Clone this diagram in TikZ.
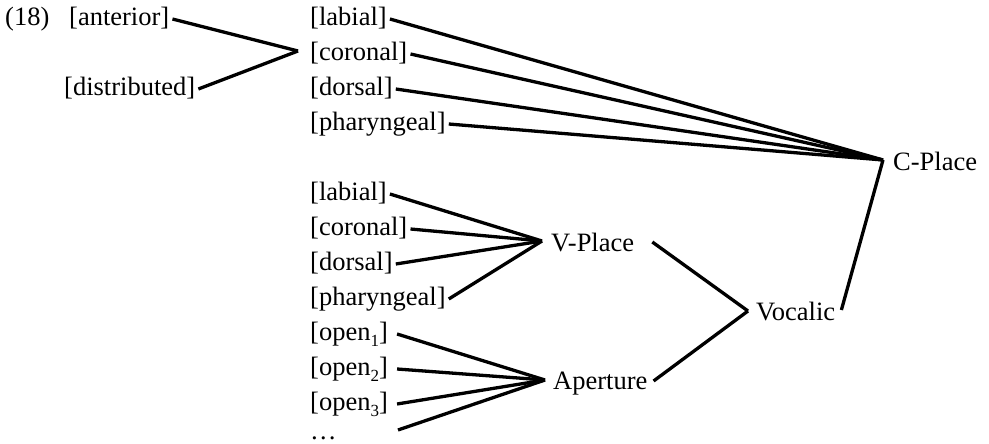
\documentclass[tikz,border=0pt]{standalone}
\usepackage{fontspec}
\setmainfont{Liberation Serif}
\newcommand\fsz{\fontsize{26.5}{30}\selectfont}
\newcommand\subn[1]{\raisebox{-0.22em}{\fontsize{17}{17}\selectfont #1}}
\tikzset{
  lab/.style={anchor=west, inner xsep=3pt, inner ysep=0pt, text height=19pt, text depth=6.4pt, font=\fsz},
  edge/.style={line width=3.3pt}
}
\begin{document}
\begin{tikzpicture}[x=1pt,y=-1pt]
\useasboundingbox (0,0) rectangle (989,444);
\node[lab] (num) at (2,19) {(18)};
\node[lab] (ant) at (66,19) {[anterior]};
\node[lab] (dis) at (61,89) {[distributed]};
\node[lab] (lab1) at (307,19) {[labial]};
\node[lab] (cor1) at (307,54) {[coronal]};
\node[lab] (dor1) at (307,89) {[dorsal]};
\node[lab] (pha1) at (307,124) {[pharyngeal]};
\node[lab] (cp) at (890,164) {C-Place};
\node[lab] (lab2) at (307,194) {[labial]};
\node[lab] (cor2) at (307,229) {[coronal]};
\node[lab] (dor2) at (307,264) {[dorsal]};
\node[lab] (pha2) at (307,299) {[pharyngeal]};
\node[lab] (op1) at (307,334) {[open\subn{1}]};
\node[lab] (op2) at (307,369) {[open\subn{2}]};
\node[lab] (op3) at (307,404) {[open\subn{3}]};
\node[lab, anchor=base west, text height=4pt, text depth=0pt] (dots) at (307,439) {\ldots};
\coordinate (dotsend) at (398,430);
\node[lab] (vp) at (548,245) {V-Place};
\node[lab] (ap) at (550,383) {Aperture};
\node[lab] (voc) at (753,314) {Vocalic};
% anterior / distributed to coronal
\draw[edge] (ant.east) -- ([xshift=-9pt,yshift=3pt]cor1.west);
\draw[edge] (dis.east) -- ([xshift=-9pt,yshift=3pt]cor1.west);
% upper column to C-Place
\foreach \n in {lab1,cor1,dor1,pha1}
  \draw[edge] (\n.east) -- ([xshift=-7pt,yshift=4pt]cp.west);
% lower column to V-Place
\foreach \n in {lab2,cor2,dor2,pha2}
  \draw[edge] (\n.east) -- ([xshift=-6pt,yshift=4pt]vp.west);
% open to Aperture
\foreach \n in {op1,op2,op3}
  \draw[edge] ([xshift=6pt]\n.east) -- ([xshift=-5pt,yshift=3pt]ap.west);
\draw[edge] (dotsend) -- ([xshift=-5pt,yshift=3pt]ap.west);
% to Vocalic
\draw[edge] ([xshift=15pt,yshift=3pt]vp.east) -- ([xshift=-5pt,yshift=3pt]voc.west);
\draw[edge] ([xshift=3pt,yshift=2pt]ap.east) -- ([xshift=-5pt,yshift=3pt]voc.west);
\draw[edge] ([xshift=3pt,yshift=4pt]voc.east) -- ([xshift=-7pt,yshift=4pt]cp.west);
\end{tikzpicture}
\end{document}
